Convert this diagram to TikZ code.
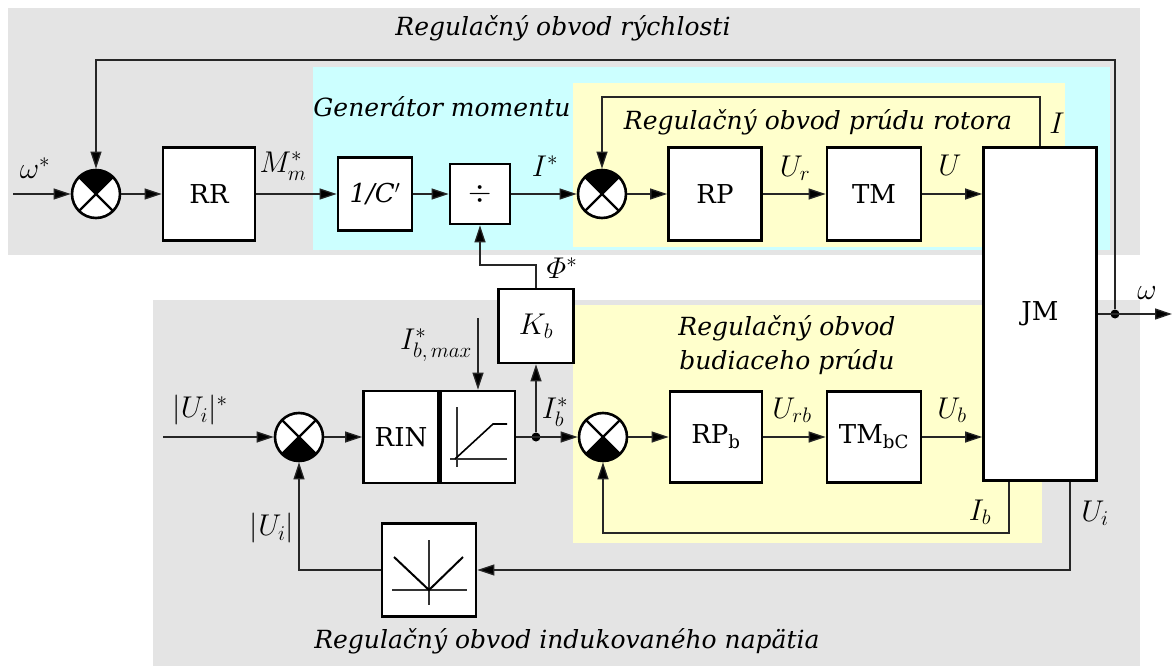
\RequirePackage{fix-cm}
\documentclass[tikz,border=0pt]{standalone}
\usepackage{amsmath}
\usepackage{fontspec}
\setmainfont{DejaVu Serif}
\usepackage{tikz}
\usetikzlibrary{arrows.meta,calc}
\definecolor{panelgray}{RGB}{228,228,228}
\definecolor{panelcyan}{RGB}{204,255,255}
\definecolor{panelyellow}{RGB}{255,255,204}
\colorlet{wirecolor}{black!85}
\newcommand{\blkfont}{\fontsize{26}{30}\selectfont}
\newcommand{\lblfont}{\fontsize{30}{34}\selectfont}
\newcommand{\ttlfont}{\fontsize{25}{34}\selectfont\itshape}
\begin{document}
\begin{tikzpicture}[x=1pt,y=-1pt,
  blk/.style={draw,line width=2.6pt,fill=white,inner sep=0pt,font=\blkfont},
  sumnode/.style={circle,draw,line width=2.6pt,fill=white,minimum size=48pt,inner sep=0pt,
    path picture={
      \coordinate (pc) at (path picture bounding box.center);
      \fill[black] (pc) -- +({#1-45}:40pt) -- +(#1:60pt) -- +({#1+45}:40pt) -- cycle;
      \draw[line width=2.4pt] (pc) +(45:30pt) -- +(225:30pt) +(135:30pt) -- +(315:30pt);
    }},
  conn/.style={draw=wirecolor,line width=1.3pt,-{Triangle[length=17pt,width=11pt,fill=black]}},
  jdot/.style={circle,fill=black,inner sep=0pt,minimum size=9pt},
  lbl/.style={font=\lblfont,inner sep=1pt},
  ttl/.style={font=\ttlfont,align=center}]
  \useasboundingbox (0,0) rectangle (1173,666);
  \fill[panelgray] (8,8) rectangle (1140,255);
  \fill[panelcyan] (313,67) rectangle (1110,250);
  \fill[panelyellow] (573,83) rectangle (1065,247);
  \fill[panelgray] (153,300) rectangle (1140,666);
  \fill[panelyellow] (573,305) rectangle (1042,543);

  \node[ttl] (t1) at (563,28) {Regulačný obvod rýchlosti};
  \node[ttl] (t2) at (442,107) {Generátor momentu};
  \node[ttl] (t3) at (818,122) {Regulačný obvod prúdu rotora};
  \node[ttl] (t4) at (787,345) {Regulačný obvod\\budiaceho prúdu};
  \node[ttl] (t5) at (567,641) {Regulačný obvod indukovaného napätia};

  \node[sumnode=90] (s1) at (96,194) {};
  \node[blk,minimum width=92pt,minimum height=93pt] (rr) at (209,194) {RR};
  \node[blk,minimum width=74pt,minimum height=73pt] (cc) at (375,194) {\textit{1/C}$'$};
  \node[blk,minimum width=60pt,minimum height=60pt] (dv) at (480,194) {\fontsize{30}{34}\selectfont$\div$};
  \node[sumnode=90] (s2) at (602,194) {};
  \node[blk,minimum width=93pt,minimum height=93pt] (rp) at (715,194) {RP};
  \node[blk,minimum width=94pt,minimum height=93pt] (tm) at (874,194) {TM};
  \node[blk,minimum width=113pt,minimum height=333pt] (jm) at (1040,314) {JM};
  \node[jdot] (od) at (1115,314) {};

  \node[sumnode=270] (s3) at (299,437) {};
  \node[blk,minimum width=75pt,minimum height=92pt] (rin) at (401,437) {RIN};
  \node[blk,minimum width=74pt,minimum height=92pt] (sat) at (478,437) {};
  \node[jdot] (bd) at (536,437) {};
  \node[blk,font=\lblfont,minimum width=75pt,minimum height=74pt] (kb) at (536,326) {$K_b$};
  \node[sumnode=270] (s4) at (603,437) {};
  \node[blk,minimum width=92pt,minimum height=91pt] (rpb) at (716,437) {RP$_\mathrm{b}$};
  \node[blk,minimum width=94pt,minimum height=91pt] (tmb) at (874,437) {TM$_\mathrm{bC}$};
  \node[blk,minimum width=94pt,minimum height=93pt] (ab) at (429,570) {};

  \draw[line width=1.2pt,black!80] (457,407) -- (457,467) (450,459) -- (507,459);
  \draw[line width=1.6pt] (455,459) -- (493,424) -- (507,424);
  \draw[line width=1.2pt,black!80] (429,540) -- (429,605) (392,590) -- (467,590);
  \draw[line width=2pt] (394,557) -- (429,590) -- (463,557);

  \coordinate (in1) at (13,194);
  \coordinate (tp) at (1115,60);
  \coordinate (ti) at (1040,97);
  \coordinate (tk) at (536,265);
  \coordinate (imx) at (478,318);
  \coordinate (in3) at (163,437);
  \coordinate (jb) at (1009,533);
  \coordinate (ju) at (1070,570);
  \coordinate (out) at (1172,314);

  \draw[conn] (in1) -- (s1);
  \draw[conn] (s1) -- (rr);
  \draw[conn] (rr) -- (cc);
  \draw[conn] (cc) -- (dv);
  \draw[conn] (dv) -- (s2);
  \draw[conn] (s2) -- (rp);
  \draw[conn] (rp) -- (tm);
  \draw[conn] (tm) -- (tm -| jm.west);
  \draw[conn] (jm.east) -- (out);
  \draw[conn] (od) -- (tp) -| (s1);
  \draw[conn] (jm.north) -- (ti) -| (s2);
  \draw[conn] (kb) -- (tk) -| (dv);
  \draw[conn] (imx) -- (sat);
  \draw[conn] (in3) -- (s3);
  \draw[conn] (s3) -- (rin);
  \draw[conn] (sat) -- (s4);
  \draw[conn] (bd) -- (kb);
  \draw[conn] (s4) -- (rpb);
  \draw[conn] (rpb) -- (tmb);
  \draw[conn] (tmb) -- (tmb -| jm.west);
  \draw[conn] (jb |- jm.south) -- (jb) -| (s4);
  \draw[conn] (ju |- jm.south) -- (ju) -- (ab);
  \draw[conn] (ab) -| (s3);

  \node[lbl] (lw) at (35,168) {$\omega^*$};
  \node[lbl] (lmm) at (283,166) {$M_m^*$};
  \node[lbl] (lis) at (545,166) {$I^*$};
  \node[lbl] (lur) at (795,168) {$U_r$};
  \node[lbl] (lu) at (950,165) {$U$};
  \node[lbl] (li) at (1057,123) {$I$};
  \node[lbl] (lom) at (1147,293) {$\omega$};
  \node[lbl] (lphi) at (562,268) {$\varPhi^*$};
  \node[lbl] (libm) at (436,345) {$I^*_{b,\,max}$};
  \node[lbl] (luis) at (200,410) {$|U_i|^*$};
  \node[lbl] (libs) at (555,412) {$I^*_b$};
  \node[lbl] (lurb) at (792,410) {$U_{rb}$};
  \node[lbl] (lub) at (952,410) {$U_b$};
  \node[lbl] (lib) at (980,512) {$I_b$};
  \node[lbl] (lui) at (1095,513) {$U_i$};
  \node[lbl] (luabs) at (272,528) {$|U_i|$};
\end{tikzpicture}
\end{document}
